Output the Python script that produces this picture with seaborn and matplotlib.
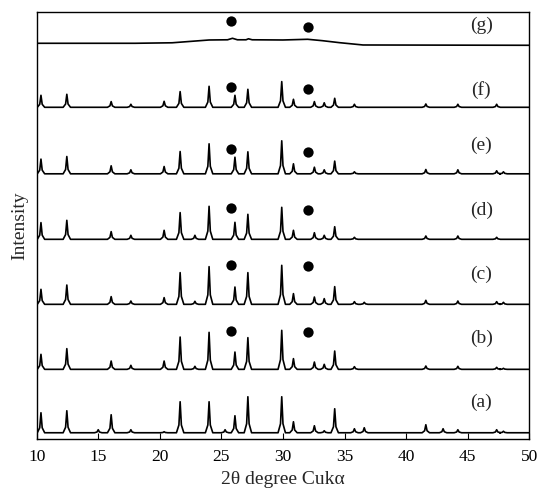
import numpy as np
import pandas as pd
import matplotlib
matplotlib.use("Agg")
import matplotlib.pyplot as plt
import seaborn as sns

sns.set_theme(style="white")
plt.rcParams['font.family'] = ['Liberation Serif', 'DejaVu Serif']
plt.rcParams['mathtext.fontset'] = 'stix'

# ---- data ----
trace_names = ["(a)", "(b)", "(c)", "(d)", "(e)", "(f)"]
trace_offsets = [6.6, 70.0, 135.0, 200.0, 265.5, 332.0]

peak_pos = [10.35, 12.45, 15.0, 16.05, 17.65, 20.35, 21.65, 22.85, 24.0, 25.3,
            26.1, 27.15, 29.9, 30.85, 32.55, 33.35, 34.2, 35.8, 36.6, 41.6,
            43.0, 44.2, 47.35, 47.9]

heights_a = [20, 22, 3, 18, 3, 1, 31, 0, 31, 3, 17, 36, 36, 11, 7, 2, 24, 4, 5, 8, 4, 3, 3, 1.5]
heights_b = [15, 20.7, 0, 8.3, 4, 8.3, 32.3, 3, 37, 0, 17.3, 31.7, 39, 10.7, 7.3, 5, 18.3, 2.7, 0, 3.3, 0, 3, 2, 1]
heights_c = [15, 19.3, 0, 7.7, 3.3, 6.7, 31.7, 3, 37.7, 0, 17.3, 31.7, 39, 10.7, 7.3, 5.7, 17.7, 2.7, 2, 4, 0, 3.3, 2.7, 2]
heights_d = [16.7, 19, 0, 7.7, 4, 9, 26.7, 4, 33, 0, 17, 25, 32, 9, 6.6, 4, 12.6, 2, 0, 3.3, 0, 3.3, 2, 0]
heights_e = [14.7, 17.3, 0, 8, 4, 7.3, 22.3, 0, 30, 0, 16.6, 22, 33, 10, 6.6, 4, 12.7, 2, 0, 4.3, 0, 4, 3, 2]
heights_f = [12, 13, 0, 5.7, 3, 6, 15.7, 0, 21, 0, 12, 18, 25.7, 8, 5.7, 4.5, 9, 3, 0, 3.3, 0, 3, 3, 0]
all_heights = [heights_a, heights_b, heights_c, heights_d, heights_e, heights_f]

# trace (g): nearly amorphous, broad hump
g_x = [10, 18, 21, 24, 25.5, 25.9, 26.3, 27.0, 27.2, 27.5, 30.0, 32.0, 33.2, 34.6, 36.5, 50]
g_y = [0, 0, 0.5, 3.3, 3.5, 5, 3.5, 3.5, 4.5, 3.5, 3.3, 4, 2.6, 0.6, -1.7, -2]
g_offset = 396.0

# marked reflections (filled dots)
dot_x = [25.8, 32.0]
dot_y_b = [108.6, 107.6]
dot_y_c = [174.3, 173.3]
dot_y_d = [231.6, 229.3]
dot_y_e = [290.0, 287.6]
dot_y_f = [352.0, 350.0]
dot_y_g = [418.6, 412.6]
dot_ys = [dot_y_b, dot_y_c, dot_y_d, dot_y_e, dot_y_f, dot_y_g]

label_names = ["(a)", "(b)", "(c)", "(d)", "(e)", "(f)", "(g)"]
label_y = [36.6, 101.3, 165.3, 229.3, 294.3, 349.3, 414.3]

x_ticks = [10, 15, 20, 25, 30, 35, 40, 45, 50]


def peak_profile(pos, hts, offset):
    xs = [10.0]
    ys = [offset]
    for p, h in zip(pos, hts):
        if h <= 0:
            continue
        for dx, f in [(-0.3, 0.0), (-0.1, 0.25), (0.0, 1.0), (0.1, 0.25), (0.3, 0.0)]:
            xx = max(10.0, p + dx)
            xs.append(xx)
            ys.append(offset + f * h)
    xs.append(50.0)
    ys.append(offset)
    return xs, ys


fig = plt.figure(figsize=(5.39, 4.97), dpi=100)
ax = fig.add_axes([0.068, 0.116, 0.914, 0.8605])

for hts, off in zip(all_heights, trace_offsets):
    xs, ys = peak_profile(peak_pos, hts, off)
    sns.lineplot(x=xs, y=ys, ax=ax, color="black", lw=1.2, sort=False, estimator=None)

sns.lineplot(x=g_x, y=[g_offset + v for v in g_y], ax=ax, color="black", lw=1.2,
             sort=False, estimator=None)

for dy in dot_ys:
    sns.scatterplot(x=dot_x, y=dy, ax=ax, color="black", s=55, edgecolor="black",
                    linewidth=0, zorder=5)

for name, ly in zip(label_names, label_y):
    ax.text(46.1, ly, name, ha="center", va="center", fontsize=14)

ax.set_xlim(10, 50)
ax.set_ylim(0, 427.6)
ax.set_xticks(x_ticks)
ax.set_xticklabels([str(t) for t in x_ticks])
ax.set_yticks([])
ax.tick_params(axis="x", direction="in", length=4, width=0.8, labelsize=12.5, pad=7,
               bottom=True, top=False, colors="black")
for s in ax.spines.values():
    s.set_color("black")
    s.set_linewidth(1.0)
ax.set_xlabel("2θ degree Cukα", fontsize=14, labelpad=4)
ax.set_ylabel("Intensity", fontsize=14, labelpad=6)

fig.savefig("out.png", dpi=100)
